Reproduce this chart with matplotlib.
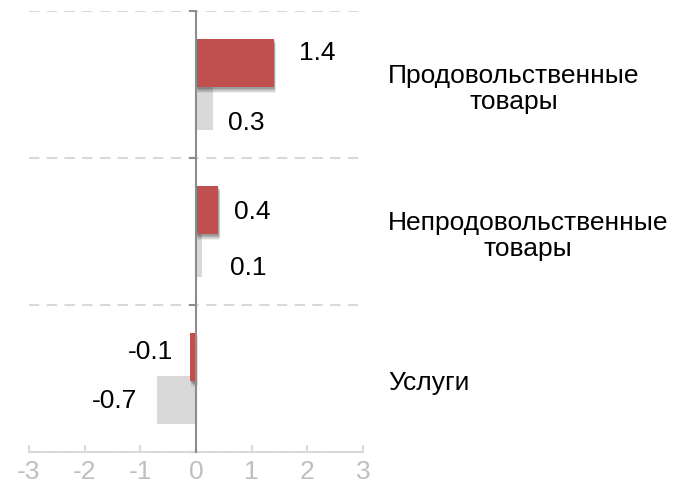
import numpy as np
import matplotlib
matplotlib.use("Agg")
import matplotlib.pyplot as plt
import matplotlib.patheffects as pe
import matplotlib.transforms as mtransforms

plt.rcParams['font.family'] = ['Liberation Sans', 'DejaVu Sans']

# data
categories = ["Продовольственные\nтовары", "Непродовольственные\nтовары", "Услуги"]
red_values = [1.4, 0.4, -0.1]
grey_values = [0.3, 0.1, -0.7]
x_ticks = [-3, -2, -1, 0, 1, 2, 3]

# label offsets in pixels (dx, dy) from the bar end, as placed in the original
red_offsets = [(25, 10), (16, -2), (-17, 5)]
grey_offsets = [(15, -17), (28, -15), (-20, -1)]

RED = "#C0504D"
GREY = "#D9D9D9"
AXIS = "#8C8C8C"
FS = 19

fig = plt.figure(figsize=(6.77, 4.95), dpi=100)
ax = fig.add_axes([29 / 677, 43 / 495, 334 / 677, 441 / 495])

y = np.arange(len(categories))
h = 0.33
shift = 0.145

ax.barh(y + shift, grey_values, height=h, color=GREY, zorder=2)
shadow = [pe.SimplePatchShadow(offset=(dx, dy), shadow_rgbFace='k', alpha=a)
          for dx, dy, a in [(0.5, -1.0, 0.12), (1.0, -2.0, 0.12),
                            (1.5, -3.0, 0.10), (0.5, -4.0, 0.06),
                            (-0.5, -2.5, 0.05)]]
ax.barh(y - shift, red_values, height=h, color=RED, zorder=3,
        path_effects=shadow + [pe.Normal()])

for i in range(len(categories)):
    v = red_values[i]
    dx, dy = red_offsets[i]
    ax.annotate(f"{v:.1f}", (v, y[i] - shift), xytext=(dx, dy),
                textcoords='offset pixels', ha='left' if v >= 0 else 'right',
                va='center', fontsize=FS, color='black', zorder=5)
    v = grey_values[i]
    dx, dy = grey_offsets[i]
    ax.annotate(f"{v:.1f}", (v, y[i] + shift), xytext=(dx, dy),
                textcoords='offset pixels', ha='left' if v >= 0 else 'right',
                va='center', fontsize=FS, color='black', zorder=5)

# category labels on the right
trans = mtransforms.blended_transform_factory(fig.transFigure, ax.transData)
for i, c in enumerate(categories):
    ax.text(388 / 677, y[i] + 0.03, c, transform=trans, ha='left', va='center',
            multialignment='center', fontsize=FS, linespacing=1.12,
            clip_on=False)

ax.set_xlim(-3, 3)
ax.set_ylim(2.5, -0.5)
ax.set_xticks(x_ticks)
ax.set_xticklabels([str(t) for t in x_ticks])
ax.set_yticks([-0.5, 0.5, 1.5, 2.5])
ax.set_yticklabels([])

for s in ['top', 'right']:
    ax.spines[s].set_visible(False)
ax.spines['left'].set_position(('data', 0))
ax.spines['left'].set_color(AXIS)
ax.spines['left'].set_linewidth(1.5)
ax.spines['left'].set_zorder(4)
ax.spines['bottom'].set_color(GREY)
ax.spines['bottom'].set_linewidth(1.5)

ax.tick_params(axis='x', direction='in', length=5, width=1.5, color=GREY,
               labelcolor='#BFBFBF', labelsize=FS, pad=6)
ax.tick_params(axis='y', direction='out', length=5, width=1.5, color=AXIS)

ax.grid(axis='y', linestyle=(0, (5, 3.5)), color=GREY, linewidth=1.5, zorder=0)
ax.set_axisbelow(True)

fig.savefig("out.png", dpi=100)
